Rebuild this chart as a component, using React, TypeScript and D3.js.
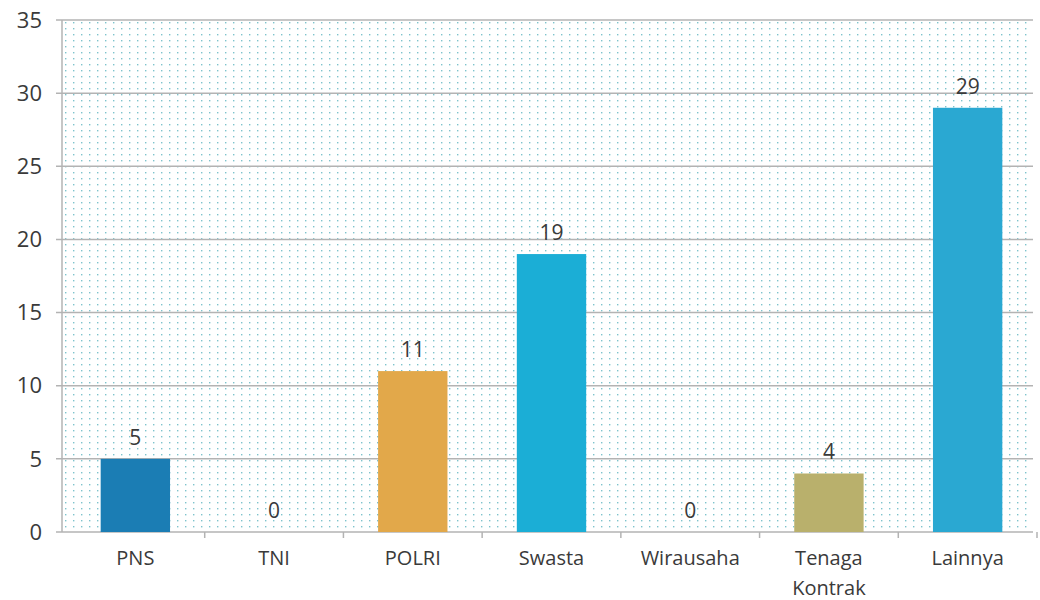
import React from "react";
import * as d3 from "d3";

const categories = ["PNS", "TNI", "POLRI", "Swasta", "Wirausaha", "Tenaga Kontrak", "Lainnya"];
const values = [5, 0, 11, 19, 0, 4, 29];
const barColors = ["#1b7db4", "#1b7db4", "#e2a84a", "#1baed6", "#1baed6", "#b9b06c", "#2aa8d2"];
const yTicks = [0, 5, 10, 15, 20, 25, 30, 35];

const W = 1040;
const H = 600;
const margin = { top: 20, right: 7, bottom: 68, left: 62 };

export default function App() {
  const innerW = W - margin.left - margin.right;
  const innerH = H - margin.top - margin.bottom;
  const shift = 4;

  const x = d3.scaleBand<string>().domain(categories).range([shift, innerW + shift]).paddingInner(0.5).paddingOuter(0.25);
  const y = d3.scaleLinear().domain([0, 35]).range([innerH, 0]);
  const step = x.step();
  const font = "'Open Sans', Lato, sans-serif";

  return (
    <svg width={W} height={H} style={{ position: "absolute", left: 0, top: 0, background: "#fff" }}>
      <defs>
        <pattern id="dots" width={8} height={6} patternUnits="userSpaceOnUse">
          <rect x={3} y={2} width={1.4} height={1.4} fill="#7ec3cc" />
        </pattern>
      </defs>
      <g transform={`translate(${margin.left},${margin.top})`}>
        <rect x={0} y={0} width={innerW} height={innerH} fill="url(#dots)" />
        {/* gridlines */}
        {yTicks.map((t) => (
          <line key={t} x1={-6} x2={innerW} y1={y(t)} y2={y(t)} stroke="#b3b3b3" strokeWidth={1.5} />
        ))}
        <line x1={0} x2={0} y1={0} y2={innerH} stroke="#b3b3b3" strokeWidth={1.5} />
        {/* category ticks */}
        {categories.map((c, i) => (
          <line key={c} x1={shift + step * (i + 1)} x2={shift + step * (i + 1)} y1={innerH} y2={innerH + 6} stroke="#b3b3b3" strokeWidth={1.5} />
        ))}
        {/* y labels */}
        {yTicks.map((t) => (
          <text key={t} x={-20} y={y(t)} dy="0.35em" textAnchor="end" fontFamily={font} fontSize={22} fill="#3a3a3a">
            {t}
          </text>
        ))}
        {/* bars */}
        {categories.map((c, i) => (
          <rect key={c} x={x(c)} y={y(values[i])} width={x.bandwidth()} height={innerH - y(values[i])} fill={barColors[i]} />
        ))}
        {/* value labels */}
        {categories.map((c, i) => (
          <text key={c} x={(x(c) ?? 0) + x.bandwidth() / 2} y={y(values[i]) - 14} textAnchor="middle" fontFamily={font} fontSize={21} fill="#3a3a3a">
            {values[i]}
          </text>
        ))}
        {/* category labels */}
        {categories.map((c) => {
          const words = c.split(" ");
          return (
            <text key={c} x={(x(c) ?? 0) + x.bandwidth() / 2} y={innerH + 33} textAnchor="middle" fontFamily={font} fontSize={20} fill="#3a3a3a">
              {words.map((w, j) => (
                <tspan key={j} x={(x(c) ?? 0) + x.bandwidth() / 2} dy={j === 0 ? 0 : 30}>
                  {w}
                </tspan>
              ))}
            </text>
          );
        })}
      </g>
    </svg>
  );
}
